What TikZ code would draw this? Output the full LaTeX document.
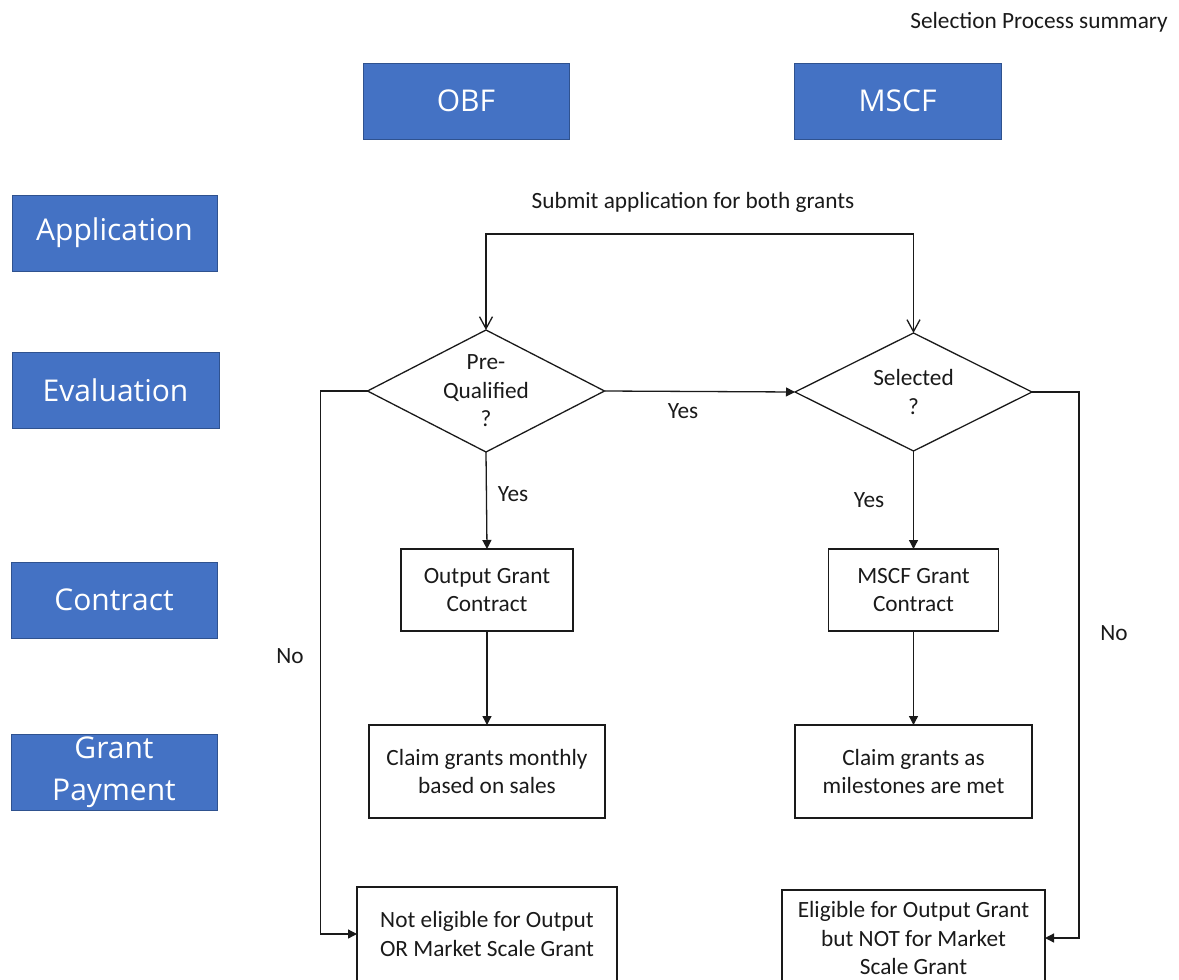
\documentclass[tikz,border=0pt]{standalone}
\usepackage{fontspec}
\setmainfont{Carlito}
\newfontfamily\headfont{Open Sans}
\usetikzlibrary{arrows.meta,shapes.geometric}
\definecolor{hdblue}{HTML}{4472C4}
\definecolor{hdedge}{HTML}{2F528F}
\definecolor{ink}{HTML}{1A1A1A}
\begin{document}
\begin{tikzpicture}[x=1pt,y=-1pt,
  every node/.style={inner sep=0pt, outer sep=0pt, text=ink},
  smalltxt/.style={font=\fontsize{23.3}{28.4}\selectfont, align=center},
  header/.style={draw=hdedge, line width=0.8pt, fill=hdblue, text=white,
    font=\headfont\fontsize{30}{42}\selectfont, align=center,
    minimum width=206pt, minimum height=76pt},
  stepbox/.style={draw=ink, line width=1.3pt, smalltxt},
  decision/.style={draw=ink, line width=1.3pt, diamond, aspect=2,
    minimum width=237pt},
  flow/.style={draw=ink, line width=1.3pt, -{Triangle[length=9pt,width=9pt]}},
  split/.style={draw=ink, line width=1.3pt,
    {Straight Barb[length=12pt,width=13pt,line width=1.3pt]}-{Straight Barb[length=12pt,width=13pt,line width=1.3pt]}}]
\useasboundingbox (0,0) rectangle (1179,980);

% title
\node[smalltxt] (title) at (1039,22) {Selection Process summary};

% column and row headers
\node[header] (obf)  at (466,101) {OBF};
\node[header, minimum width=207pt] (mscf) at (897.5,101) {MSCF};
\node[header, minimum width=205pt] (app)  at (114.5,233) {Application};
\node[header, minimum width=207pt] (eval) at (115.5,390) {Evaluation};
\node[header] (con)  at (114,600) {Contract};
\node[header] (pay)  at (114,772) {Grant\\Payment};

% decisions
\node[decision, minimum height=122pt] (q1) at (486,391) {};
\node[smalltxt] (q1t) at (q1.center) {Pre-\\Qualified\\?};
\node[decision, minimum height=118pt] (q2) at (913.5,392) {};
\node[smalltxt] (q2t) at (q2.center) {Selected\\?};

% process boxes
\node[stepbox, minimum width=172pt, minimum height=82pt] (ogc) at (487,590) {Output Grant\\Contract};
\node[stepbox, minimum width=170pt, minimum height=82pt] (mgc) at (913.5,590) {MSCF Grant\\Contract};
\node[stepbox, minimum width=236pt, minimum height=93pt] (cm) at (487,771.5) {Claim grants monthly\\based on sales};
\node[stepbox, minimum width=237pt, minimum height=93pt] (cs) at (913.5,771.5) {Claim grants as\\milestones are met};
\node[stepbox, minimum width=260pt, minimum height=94pt] (ne) at (487,934) {Not eligible for Output\\OR Market Scale Grant};
\node[stepbox, minimum width=263pt, minimum height=96pt] (el) at (913.5,938) {Eligible for Output Grant\\but NOT for Market\\Scale Grant};

% application splits to both evaluations
\node[smalltxt] (sub) at (693,202) {Submit application for both grants};
\draw[split] (q1.north) -- ++(0,-96) -| (q2.north);

% evaluation outcomes
\draw[flow] (q1.east) -- (q2.west);
\node[smalltxt] (y1) at (683,411) {Yes};
\draw[flow] (q1.south) -- (ogc.north);
\node[smalltxt] (y2) at (513,494) {Yes};
\draw[flow] (q2.south) -- (mgc.north);
\node[smalltxt] (y3) at (869,500) {Yes};
\draw[flow] (ogc.south) -- (cm.north);
\draw[flow] (mgc.south) -- (cs.north);

% rejections
\draw[flow] (q1.west) -- ++(-47,0) |- (ne.west);
\node[smalltxt] (n1) at (290,656) {No};
\draw[flow] (q2.east) -- ++(47,0) |- (el.east);
\node[smalltxt] (n2) at (1114,633) {No};
\end{tikzpicture}
\end{document}
